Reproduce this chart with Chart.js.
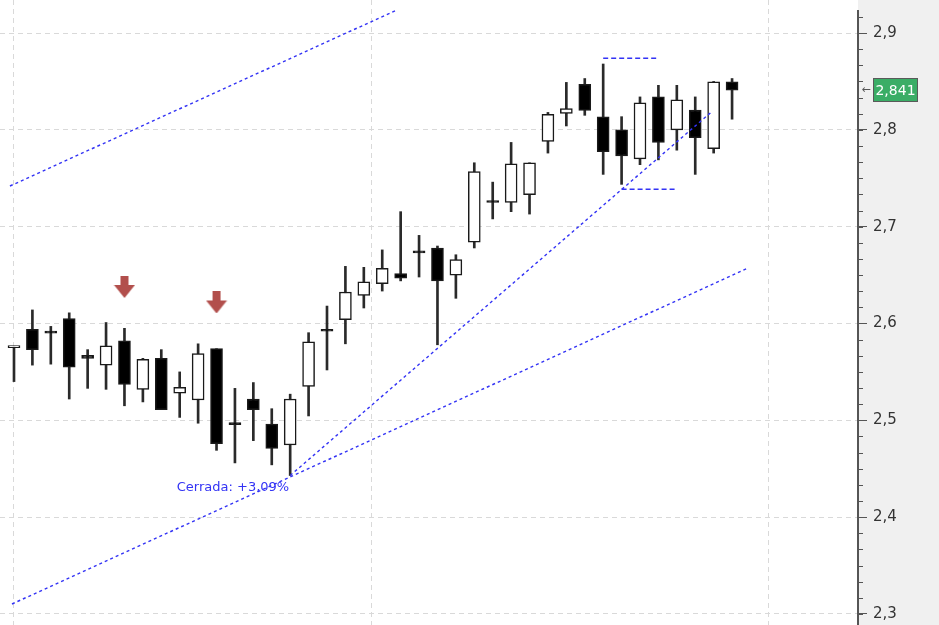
<!DOCTYPE html>
<html lang="es">
<head>
    <meta charset="UTF-8">
    <title>Velas</title>
    <script src="https://cdn.jsdelivr.net/npm/chart.js"></script>
    <style>
        body { margin: 0; background: #fff; }
    </style>
</head>
<body>
    <div style="width: 939px; height: 625px;">
        <canvas id="grafico" width="939" height="625"></canvas>
    </div>
    <script>
        // velas diarias (apertura, maximo, minimo, cierre)
        const apertura = [2.575, 2.594, 2.592, 2.605, 2.567, 2.557, 2.582, 2.532, 2.564, 2.528,
                          2.521, 2.574, 2.4965, 2.522, 2.496, 2.4745, 2.535, 2.594, 2.604, 2.629,
                          2.641, 2.6515, 2.674, 2.678, 2.650, 2.684, 2.7255, 2.725, 2.733, 2.788,
                          2.817, 2.847, 2.8135, 2.800, 2.770, 2.834, 2.800, 2.8205, 2.7805, 2.8497]
        const maximo = [2.576, 2.614, 2.597, 2.611, 2.573, 2.601, 2.595, 2.564, 2.573, 2.550,
                        2.579, 2.574, 2.533, 2.539, 2.512, 2.527, 2.5905, 2.618, 2.659, 2.658,
                        2.676, 2.7155, 2.691, 2.680, 2.671, 2.766, 2.746, 2.787, 2.766, 2.818,
                        2.849, 2.853, 2.868, 2.8136, 2.834, 2.846, 2.846, 2.834, 2.850, 2.853]
        const minimo = [2.540, 2.557, 2.558, 2.522, 2.533, 2.532, 2.515, 2.519, 2.511, 2.503,
                        2.497, 2.469, 2.456, 2.479, 2.454, 2.443, 2.5045, 2.552, 2.579, 2.616,
                        2.6335, 2.644, 2.648, 2.578, 2.626, 2.678, 2.708, 2.7155, 2.713, 2.776,
                        2.804, 2.815, 2.754, 2.7437, 2.764, 2.769, 2.779, 2.754, 2.776, 2.811]
        const cierre = [2.576, 2.573, 2.590, 2.555, 2.564, 2.577, 2.537, 2.563, 2.511, 2.534,
                        2.569, 2.476, 2.4955, 2.511, 2.471, 2.522, 2.581, 2.592, 2.6325, 2.643,
                        2.657, 2.6467, 2.673, 2.644, 2.666, 2.757, 2.7250, 2.765, 2.766, 2.816,
                        2.822, 2.820, 2.7775, 2.773, 2.828, 2.787, 2.831, 2.792, 2.8497, 2.841]

        // lineas de tendencia (indice de vela, precio)
        const canalSupX = [-0.22, 20.8]
        const canalSupY = [2.742, 2.9238]
        const canalInfX = [-0.11, 39.87]
        const canalInfY = [2.3103, 2.6573]
        const soporteX = [15, 37.86]
        const soporteY = [2.443, 2.8181]
        const maxMarcaX = [32, 35]
        const maxMarcaY = [2.8739, 2.8739]
        const minMarcaX = [33, 36]
        const minMarcaY = [2.7386, 2.7386]

        // flechas de venta
        const flechasX = [6, 11]
        const flechasY = [2.6377, 2.6217]

        const etiquetaY = [2.3, 2.4, 2.5, 2.6, 2.7, 2.8, 2.9]
        const lineasFecha = [0, 19.4, 41]
        const textoCerrada = 'Cerrada: +3,09%'
        const velaCerrada = 15

        const idx = cierre.map((_, i) => i)
        const subida = idx.map(i => cierre[i] >= apertura[i])

        const puntos = (xs, ys) => xs.map((x, i) => ({x: x, y: ys[i]}))

        const flecha = (() => {
            const c = document.createElement('canvas')
            c.width = 22; c.height = 22
            const g = c.getContext('2d')
            g.fillStyle = '#b24f4c'
            g.fillRect(7, 0, 8, 10)
            g.beginPath()
            g.moveTo(0.5, 9); g.lineTo(21.5, 9); g.lineTo(11, 22)
            g.closePath()
            g.fill()
            return c
        })()

        const azul = '#3333f5'
        const linea = (xs, ys, dash) => ({
            type: 'line',
            data: puntos(xs, ys),
            borderColor: azul,
            borderWidth: 1.4,
            borderDash: dash,
            pointRadius: 0,
            fill: false,
            order: 0
        })

        const sinRelleno = s => {
            s.paddingTop = 0; s.paddingBottom = 0
            s.paddingLeft = 0; s.paddingRight = 0
        }

        const decorado = {
            id: 'decorado',
            beforeDraw(chart) {
                const {ctx, chartArea, width, height} = chart
                ctx.save()
                ctx.fillStyle = '#ffffff'
                ctx.fillRect(0, 0, width, height)
                ctx.fillStyle = '#f0f0f0'
                ctx.fillRect(chartArea.right, 0, width - chartArea.right, height)
                ctx.restore()
            },
            afterDraw(chart) {
                const {ctx, chartArea, scales} = chart
                const y = scales.y, x = scales.x
                ctx.save()
                // linea del eje
                ctx.strokeStyle = '#555'
                ctx.lineWidth = 2
                ctx.beginPath()
                ctx.moveTo(chartArea.right, 10)
                ctx.lineTo(chartArea.right, chartArea.bottom)
                ctx.stroke()
                // marcas menores del eje
                ctx.lineWidth = 1
                const paso = 0.1 / 6
                for (let v = etiquetaY[0] - paso; v <= y.max; v += paso) {
                    const py = Math.round(y.getPixelForValue(v)) + 0.5
                    if (py < 10) continue
                    ctx.beginPath()
                    ctx.moveTo(chartArea.right, py)
                    ctx.lineTo(chartArea.right + 5, py)
                    ctx.stroke()
                }
                // texto de la operacion cerrada
                ctx.font = '13px "DejaVu Sans", sans-serif'
                ctx.fillStyle = azul
                ctx.textAlign = 'right'
                ctx.textBaseline = 'middle'
                ctx.fillText(textoCerrada, x.getPixelForValue(velaCerrada) - 1,
                             y.getPixelForValue(minimo[velaCerrada]) + 12)
                // precio actual
                const ultimo = cierre[cierre.length - 1]
                const py = Math.round(y.getPixelForValue(ultimo))
                const bx = chartArea.right + 15
                ctx.fillStyle = '#3aad66'
                ctx.fillRect(bx, py - 12, 45, 24)
                ctx.strokeStyle = '#5a5a5a'
                ctx.lineWidth = 1
                ctx.strokeRect(bx + 0.5, py - 11.5, 44, 23)
                ctx.fillStyle = '#ffffff'
                ctx.font = '14px "DejaVu Sans", sans-serif'
                ctx.textAlign = 'center'
                ctx.fillText(ultimo.toFixed(3).replace('.', ','), bx + 22.5, py + 1)
                ctx.fillStyle = '#555'
                ctx.font = '11px "DejaVu Sans", sans-serif'
                ctx.fillText('\u2190', chartArea.right + 8, py)
                ctx.restore()
            }
        }

        const ctx = document.getElementById('grafico')

        new Chart(ctx, {
            type: 'bar',
            data: {
                datasets: [
                    linea(canalSupX, canalSupY, [3, 3]),
                    linea(canalInfX, canalInfY, [3, 3]),
                    linea(soporteX, soporteY, [3, 3]),
                    linea(maxMarcaX, maxMarcaY, [5, 3]),
                    linea(minMarcaX, minMarcaY, [5, 3]),
                    {
                        type: 'scatter',
                        data: puntos(flechasX, flechasY),
                        pointStyle: flecha,
                        order: 0
                    },
                    {
                        // cuerpos
                        type: 'bar',
                        data: idx.map(i => ({x: i, y: [apertura[i], cierre[i]]})),
                        backgroundColor: subida.map(s => s ? '#ffffff' : '#000000'),
                        borderColor: '#1a1a1a',
                        borderWidth: 1.5,
                        borderSkipped: false,
                        barThickness: 12,
                        minBarLength: 2,
                        grouped: false,
                        order: 1
                    },
                    {
                        // mechas
                        type: 'bar',
                        data: idx.map(i => ({x: i, y: [minimo[i], maximo[i]]})),
                        backgroundColor: '#2a2a2a',
                        borderWidth: 0,
                        barThickness: 2,
                        grouped: false,
                        order: 2
                    }
                ]
            },
            options: {
                responsive: false,
                animation: false,
                layout: { padding: 0, autoPadding: false },
                plugins: {
                    legend: { display: false },
                    tooltip: { enabled: false }
                },
                scales: {
                    x: {
                        type: 'linear',
                        offset: false,
                        min: -0.76,
                        max: 45.84,
                        afterBuildTicks: s => { s.ticks = lineasFecha.map(v => ({value: v})) },
                        afterFit: s => { s.height = 0; sinRelleno(s) },
                        ticks: { display: false },
                        grid: { color: '#d9d9d9', drawTicks: false, lineWidth: 1, offset: false },
                        border: { display: false, dash: [5, 4] }
                    },
                    y: {
                        position: 'right',
                        min: 2.2886,
                        max: 2.9341,
                        afterBuildTicks: s => { s.ticks = etiquetaY.map(v => ({value: v})) },
                        afterFit: s => { s.width = 81; sinRelleno(s) },
                        ticks: {
                            color: '#333',
                            padding: 6,
                            font: { family: '"DejaVu Sans"', size: 15 },
                            callback: v => v.toFixed(1).replace('.', ',')
                        },
                        grid: {
                            color: '#d9d9d9',
                            tickColor: '#555',
                            tickLength: 9,
                            lineWidth: 1
                        },
                        border: { display: false, dash: [5, 4] }
                    }
                }
            },
            plugins: [decorado]
        })
    </script>
</body>
</html>
